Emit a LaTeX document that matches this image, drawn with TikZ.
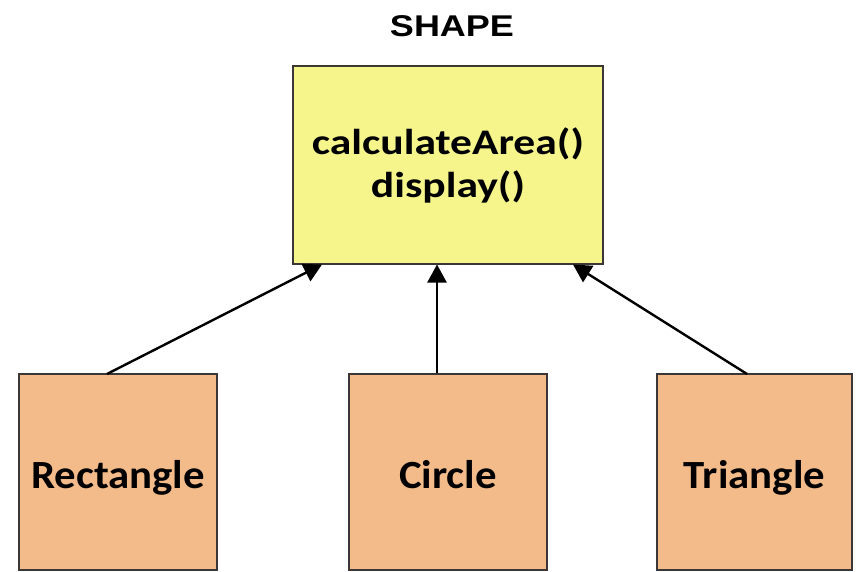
\documentclass[tikz,border=0pt]{standalone}
\usepackage{fontspec}
\setmainfont{Carlito}
\newfontfamily\titlefont[FakeStretch=1.2]{Liberation Sans}
\newfontfamily\parentfont[FakeStretch=1.21]{Carlito}
\newfontfamily\childfont[FakeStretch=1.07]{Carlito}
\usetikzlibrary{arrows.meta}
\definecolor{yel}{RGB}{245,245,140}
\definecolor{ora}{RGB}{243,187,138}
\definecolor{edge}{RGB}{60,55,55}
\begin{document}
\begin{tikzpicture}[x=1pt,y=-1pt,
  base/.style={draw=edge,line width=1.3pt,inner sep=0pt},
  parentbox/.style={base,fill=yel},
  childbox/.style={base,fill=ora,minimum height=196pt,text height=40pt,text depth=8pt,
    font={\childfont\bfseries\fontsize{40}{40}\selectfont}},
  inh/.style={line width=2.4pt,-{Triangle[length=18pt,width=19pt]}}]
\useasboundingbox (0,0) rectangle (857,572);
\fill[white] (0,0) rectangle (857,572);
\node[font={\titlefont\bfseries\fontsize{30}{34}\selectfont}] (title) at (452,26) {SHAPE};
\node[parentbox,minimum width=310pt,minimum height=198pt,align=center,
  font={\parentfont\bfseries\fontsize{36}{43}\selectfont}] (shape) at (448,165) {calculateArea()\\display()};
\node[childbox,minimum width=198pt] (rect) at (118,472) {Rectangle};
\node[childbox,minimum width=198pt] (circ) at (448,472) {Circle};
\node[childbox,minimum width=195pt] (tri) at (754.5,472) {Triangle};
\coordinate (rt) at (107,374);
\coordinate (tt) at (747,374);
\draw[inh] (rt) -- (322,264.5);
\draw[inh] (circ.north -| 437,0) -- (437,264.5);
\draw[inh] (tt) -- (573,264.5);
\end{tikzpicture}
\end{document}
